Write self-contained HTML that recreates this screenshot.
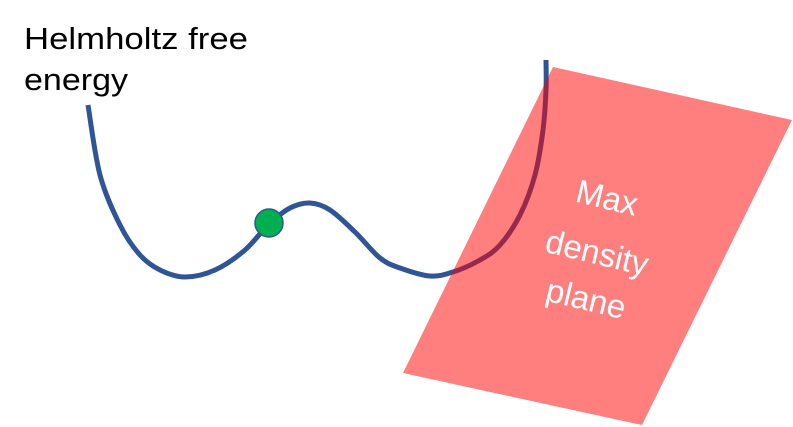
<!DOCTYPE html>
<html><head><meta charset="utf-8"><style>
html,body{margin:0;padding:0;background:#fff;}
svg{display:block;}
text{font-family:"Liberation Sans",sans-serif;}
</style></head><body>
<svg id="chart" width="793" height="427" viewBox="0 0 793 427">
<text x="24" y="49" font-size="31" textLength="224" lengthAdjust="spacingAndGlyphs" fill="#000">Helmholtz free</text>
<text x="24" y="90" font-size="31" textLength="104" lengthAdjust="spacingAndGlyphs" fill="#000">energy</text>
<path id="curve" fill="none" stroke="#2f5597" stroke-width="5" stroke-linecap="butt"/>
<circle cx="269" cy="223" r="14" fill="#00b050" stroke="#2f5597" stroke-width="1.5"/>
<polygon points="553,67 792,120 642,425 403,373" fill="rgb(255,0,0)" fill-opacity="0.5"/>
<g fill="#fff" font-size="33" text-anchor="middle">
<text x="607" y="209" transform="rotate(13.5 607 198)">Max</text>
<text x="597" y="264" transform="rotate(13.5 597 253)">density</text>
<text x="586" y="310" transform="rotate(13.5 586 299)">plane</text>
</g>
</svg>
<script>
const curveX=[88,100,120,140,160,185,215,245,268,290,310,330,355,380,400,430,453,480,500,520,535,543,546,546];
const curveY=[105,175,225,255,270,277,270,250,225,208,203,210,232,258,268,276,272,260,245,215,175,130,90,60];
let d='M'+curveX[0]+','+curveY[0];
for(let i=0;i<curveX.length-1;i++){
  const i0=Math.max(0,i-1),i3=Math.min(curveX.length-1,i+2);
  const c1x=curveX[i]+(curveX[i+1]-curveX[i0])/6, c1y=curveY[i]+(curveY[i+1]-curveY[i0])/6;
  const c2x=curveX[i+1]-(curveX[i3]-curveX[i])/6, c2y=curveY[i+1]-(curveY[i3]-curveY[i])/6;
  d+=' C'+c1x+','+c1y+' '+c2x+','+c2y+' '+curveX[i+1]+','+curveY[i+1];
}
document.getElementById('curve').setAttribute('d',d);
</script>
</body></html>
